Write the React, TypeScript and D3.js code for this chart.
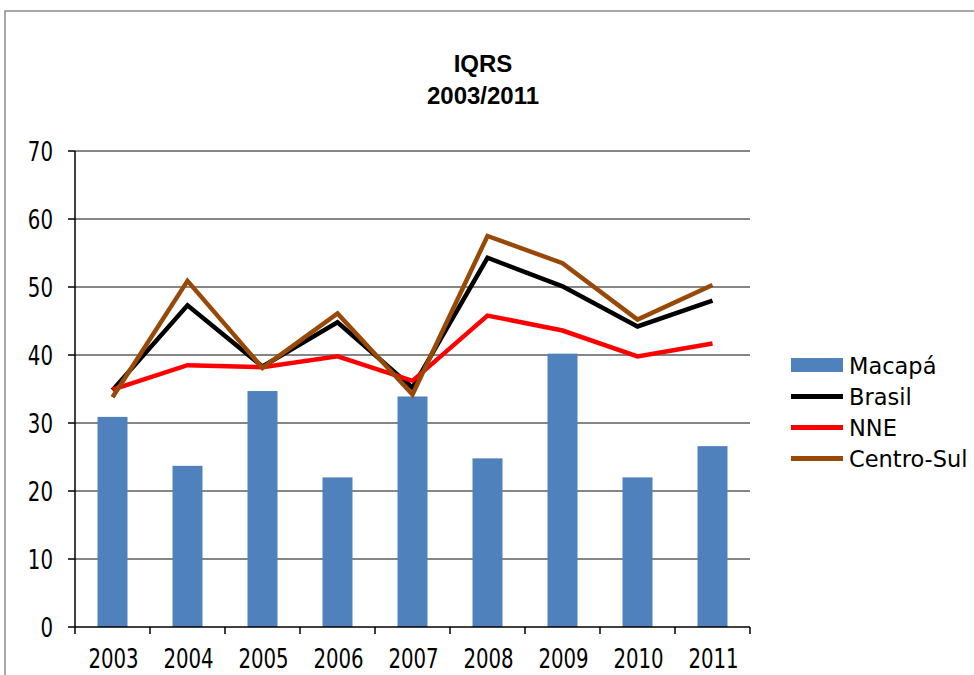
import React from 'react';
import * as d3 from 'd3';

// chart data
const years = ['2003', '2004', '2005', '2006', '2007', '2008', '2009', '2010', '2011'];
const macapa = [30.9, 23.7, 34.7, 22.0, 33.9, 24.8, 40.2, 22.0, 26.6];
const brasil = [34.8, 47.3, 38.3, 44.8, 35.2, 54.3, 50.1, 44.2, 48.0];
const nne = [34.9, 38.5, 38.2, 39.8, 36.2, 45.8, 43.6, 39.8, 41.7];
const centroSul = [33.8, 50.9, 38.1, 46.1, 34.2, 57.5, 53.5, 45.2, 50.3];
const yTicks = [0, 10, 20, 30, 40, 50, 60, 70];

const lineSeries = [
    { name: 'Brasil', values: brasil, color: '#000000' },
    { name: 'NNE', values: nne, color: '#ff0000' },
    { name: 'Centro-Sul', values: centroSul, color: '#984807' },
];

export default function App() {

    // constants
    const width = 974;
    const height = 675;
    const left = 75;
    const right = 750;
    const top = 151;
    const bottom = 627;
    const font = '"DejaVu Sans", Verdana, sans-serif';
    // tick labels look squeezed sideways in the original
    const squeeze = 0.76;

    // scales
    const x_scale = d3.scaleBand()
        .domain(years)
        .range([left, right])
        .paddingInner(0.6)
        .paddingOuter(0.3);

    const x_center = (y: string) => (x_scale(y) as number) + x_scale.bandwidth() / 2;

    const y_scale = d3.scaleLinear()
        .domain([0, 70])
        .range([bottom, top]);

    const line = d3.line<number>()
        .x((d, i) => x_center(years[i]))
        .y(d => y_scale(d));

    const step = (right - left) / years.length;

    return (
        <svg width={width} height={height} style={{ position: 'absolute', left: 0, top: 0, background: '#fff' }}>
            {/* chart frame */}
            <rect x={5} y={11} width={1000} height={700} fill="#fff" stroke="#8c8c8c" strokeWidth={1.5}/>

            {/* title */}
            <text x={483} y={72} textAnchor="middle" fontFamily='"Liberation Sans", Arial, sans-serif'
                  fontWeight="bold" fontSize={24}>IQRS</text>
            <text x={483} y={104} textAnchor="middle" fontFamily='"Liberation Sans", Arial, sans-serif'
                  fontWeight="bold" fontSize={24}>2003/2011</text>

            {/* gridlines */}
            {yTicks.filter(t => t > 0).map(t =>
                <line key={'g' + t} x1={left} x2={right} y1={y_scale(t)} y2={y_scale(t)}
                      stroke="#868686" strokeWidth={2}/>
            )}

            {/* bars */}
            {macapa.map((v, i) =>
                <rect key={'b' + i} x={x_scale(years[i])} y={y_scale(v)}
                      width={x_scale.bandwidth()} height={y_scale(0) - y_scale(v)} fill="#4f81bd"/>
            )}

            {/* axes */}
            <line x1={left} x2={left} y1={top} y2={bottom} stroke="#000" strokeWidth={1.5}/>
            <line x1={left} x2={right} y1={bottom} y2={bottom} stroke="#000" strokeWidth={1.5}/>
            {yTicks.map(t =>
                <g key={'y' + t}>
                    <line x1={left - 7} x2={left} y1={y_scale(t)} y2={y_scale(t)} stroke="#000" strokeWidth={1.5}/>
                    <text transform={`translate(53,${y_scale(t) + 9.5}) scale(${squeeze},1)`} textAnchor="end"
                          fontFamily={font} fontSize={26}>{t}</text>
                </g>
            )}
            {d3.range(years.length + 1).map(i =>
                <line key={'xt' + i} x1={left + i * step} x2={left + i * step} y1={bottom} y2={bottom + 7}
                      stroke="#000" strokeWidth={1.5}/>
            )}
            {years.map(y =>
                <text key={'xl' + y} transform={`translate(${x_center(y) + 1},668) scale(${squeeze},1)`}
                      textAnchor="middle" fontFamily={font} fontSize={26}>{y}</text>
            )}

            {/* lines */}
            {lineSeries.map(s =>
                <path key={s.name} d={line(s.values) as string} fill="none" stroke={s.color}
                      strokeWidth={4.5} strokeLinejoin="miter"/>
            )}

            {/* legend */}
            <rect x={791} y={358} width={52} height={14} fill="#4f81bd"/>
            <text x={849} y={374} fontFamily={font} fontSize={22.5}>Macapá</text>
            {lineSeries.map((s, i) =>
                <g key={'l' + s.name}>
                    <line x1={791} x2={843} y1={396.5 + i * 31} y2={396.5 + i * 31} stroke={s.color} strokeWidth={5}/>
                    <text x={849} y={404.5 + i * 31} fontFamily={font} fontSize={22.5}>{s.name}</text>
                </g>
            )}
        </svg>
    );
}
